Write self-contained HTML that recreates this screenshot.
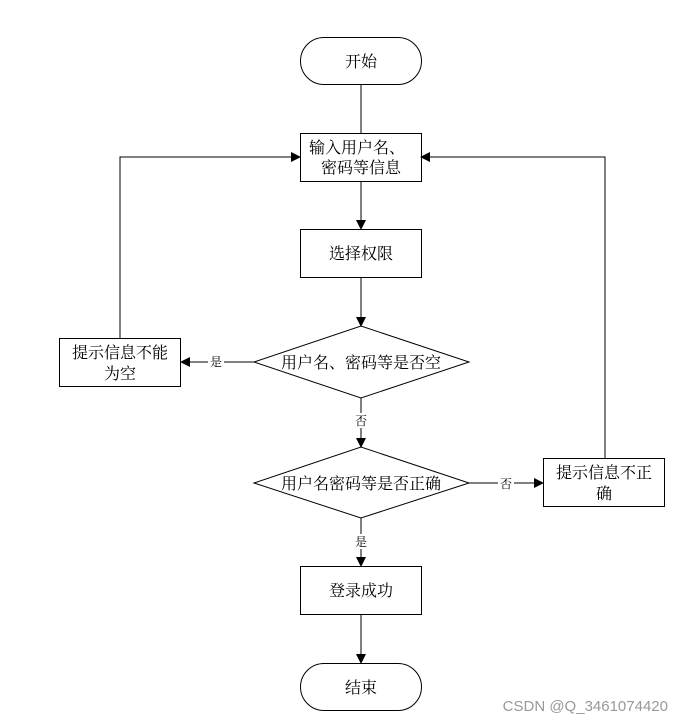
<!DOCTYPE html>
<html><head><meta charset="utf-8"><style>
html,body{margin:0;padding:0;background:#fff;width:682px;height:723px;overflow:hidden}
svg text{font-family:"Liberation Serif","Noto Serif CJK SC","Noto Sans CJK SC",serif;fill:#000}
</style></head><body>
<svg width="682" height="723" viewBox="0 0 682 723" xmlns="http://www.w3.org/2000/svg">
<defs><marker id="a" markerWidth="10" markerHeight="10" refX="9" refY="5" orient="auto" markerUnits="userSpaceOnUse"><path d="M0,0 L10,5 L0,10z" fill="#000"/></marker></defs>
<g stroke="#000" stroke-width="1" fill="none">
<rect x="300.5" y="37.5" width="121" height="47" rx="23.5" fill="#fff"/>
<rect x="300.5" y="133.5" width="121" height="48" fill="#fff"/>
<rect x="300.5" y="229.5" width="121" height="48" fill="#fff"/>
<polygon points="254,362 361,326 469,362 361,398" fill="#fff"/>
<rect x="59.5" y="338.5" width="121" height="48" fill="#fff"/>
<polygon points="254,483 361,447 469,483 361,518" fill="#fff"/>
<rect x="543.5" y="458.5" width="121" height="48" fill="#fff"/>
<rect x="300.5" y="566.5" width="121" height="48" fill="#fff"/>
<rect x="300.5" y="663.5" width="121" height="47" rx="23.5" fill="#fff"/>
<line x1="361" y1="85" x2="361" y2="133"/>
<line x1="361" y1="182" x2="361" y2="229" marker-end="url(#a)"/>
<line x1="361" y1="278" x2="361" y2="326" marker-end="url(#a)"/>
<line x1="254" y1="362" x2="181" y2="362" marker-end="url(#a)"/>
<polyline points="120,338 120,157 300,157" marker-end="url(#a)"/>
<line x1="361" y1="398" x2="361" y2="447" marker-end="url(#a)"/>
<line x1="469" y1="483" x2="543" y2="483" marker-end="url(#a)"/>
<polyline points="605,458 605,157 421,157" marker-end="url(#a)"/>
<line x1="361" y1="518" x2="361" y2="566" marker-end="url(#a)"/>
<line x1="361" y1="615" x2="361" y2="663" marker-end="url(#a)"/>
</g>
<g font-size="16" text-anchor="middle">
<text x="361" y="67">开始</text>
<text x="357" y="153">输入用户名、</text>
<text x="361" y="173">密码等信息</text>
<text x="361" y="259">选择权限</text>
<text x="361" y="368">用户名、密码等是否空</text>
<text x="120" y="358">提示信息不能</text>
<text x="120" y="379">为空</text>
<text x="361" y="489">用户名密码等是否正确</text>
<text x="604" y="478">提示信息不正</text>
<text x="604" y="499">确</text>
<text x="361" y="596">登录成功</text>
<text x="361" y="693">结束</text>
</g>
<g font-size="12" text-anchor="middle">
<rect x="208" y="354" width="16" height="15" fill="#fff"/>
<text x="216" y="366">是</text>
<rect x="353" y="413" width="16" height="15" fill="#fff"/>
<text x="361" y="425">否</text>
<rect x="498" y="476" width="16" height="15" fill="#fff"/>
<text x="506" y="488">否</text>
<rect x="353" y="534" width="16" height="15" fill="#fff"/>
<text x="361" y="546">是</text>
</g>
<text x="668" y="711" font-size="15" text-anchor="end" style="font-family:'Liberation Sans',sans-serif;fill:#999">CSDN @Q_3461074420</text>
</svg>
</body></html>
